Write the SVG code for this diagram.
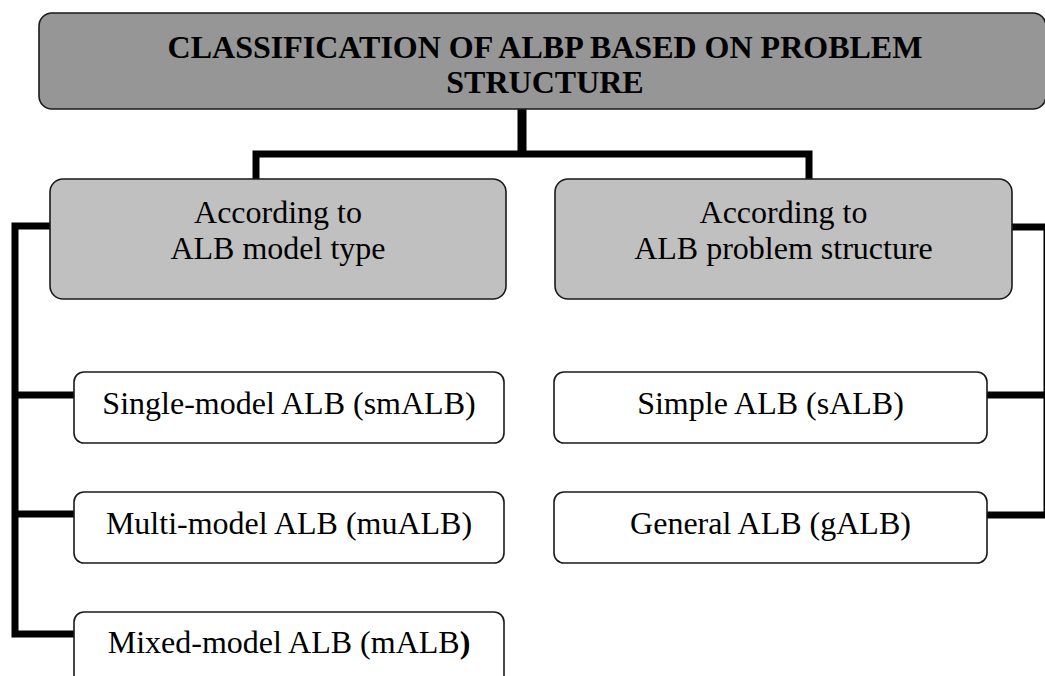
<svg xmlns="http://www.w3.org/2000/svg" width="1045" height="676" viewBox="0 0 1045 676">
  <style>
    .box { stroke: #1a1a1a; stroke-width: 1.6; }
    .root { fill: #969696; }
    .cat { fill: #c0c0c0; }
    .leaf { fill: #ffffff; }
    .title { font-family: "Liberation Serif", "Times New Roman", serif; font-size: 32px; font-weight: bold; fill: #000; text-anchor: middle; }
    .lbl { font-family: "Liberation Serif", "Times New Roman", serif; font-size: 32px; fill: #000; text-anchor: middle; }
    .wire { fill: none; stroke: #000; stroke-width: 7; stroke-linejoin: miter; stroke-linecap: butt; }
  </style>

  <rect width="1045" height="676" fill="#ffffff"/>

  <!-- connectors -->
  <g id="connectors">
    <path class="wire" d="M522 109 V154" style="stroke-width:9"/>
    <path class="wire" d="M256 179 V154 H809 V179"/>
    <path class="wire" d="M50 226 H15 V634 H74"/>
    <path class="wire" d="M15 395 H74"/>
    <path class="wire" d="M15 514 H74"/>
    <path class="wire" d="M1012 227 H1047 V515 H987"/>
    <path class="wire" d="M1047 395 H987"/>
  </g>

  <!-- root -->
  <g id="root">
    <rect class="box root" x="39" y="13" width="1007" height="96" rx="13"/>
    <text class="title" x="545" y="58">CLASSIFICATION OF ALBP BASED ON PROBLEM</text>
    <text class="title" x="545" y="93">STRUCTURE</text>
  </g>

  <!-- categories -->
  <g id="model-type">
    <rect class="box cat" x="50" y="179" width="456" height="120" rx="13"/>
    <text class="lbl" x="278" y="223">According to</text>
    <text class="lbl" x="278" y="259">ALB model type</text>
  </g>
  <g id="problem-structure">
    <rect class="box cat" x="555" y="179" width="457" height="120" rx="13"/>
    <text class="lbl" x="783.5" y="223">According to</text>
    <text class="lbl" x="783.5" y="259">ALB problem structure</text>
  </g>

  <!-- model type leaves -->
  <g id="smalb">
    <rect class="box leaf" x="74" y="372" width="430" height="71" rx="10"/>
    <text class="lbl" x="289" y="414">Single-model ALB (smALB)</text>
  </g>
  <g id="mualb">
    <rect class="box leaf" x="74" y="492" width="430" height="71" rx="10"/>
    <text class="lbl" x="289" y="534">Multi-model ALB (muALB)</text>
  </g>
  <g id="malb">
    <rect class="box leaf" x="74" y="612" width="430" height="80" rx="10"/>
    <text class="lbl" x="289" y="653">Mixed-model ALB (mALB<tspan font-weight="bold">)</tspan></text>
  </g>

  <!-- problem structure leaves -->
  <g id="salb">
    <rect class="box leaf" x="554" y="372" width="433" height="71" rx="10"/>
    <text class="lbl" x="770.5" y="414">Simple ALB (sALB)</text>
  </g>
  <g id="galb">
    <rect class="box leaf" x="554" y="492" width="433" height="71" rx="10"/>
    <text class="lbl" x="770.5" y="534">General ALB (gALB)</text>
  </g>
</svg>
